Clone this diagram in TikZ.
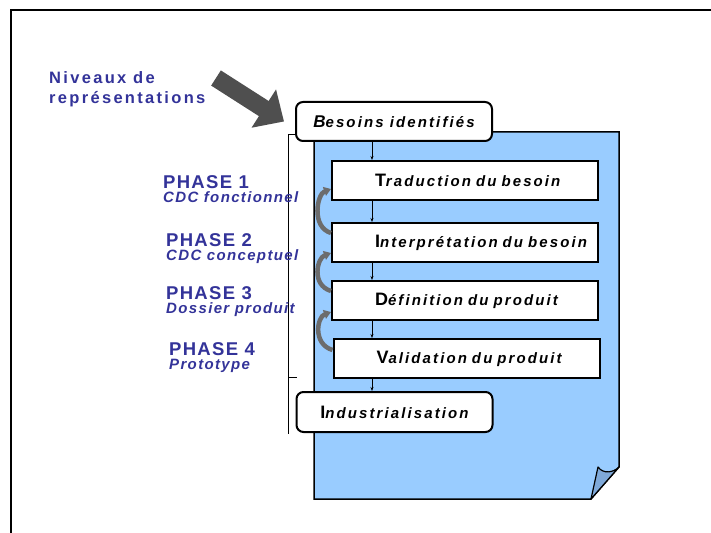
\documentclass[tikz,border=0pt]{standalone}
\usepackage{fontspec}
\setmainfont{Liberation Sans}
\newfontfamily\spacedfont[LetterSpace=14]{Liberation Sans}
\newfontfamily\subfont[LetterSpace=9]{Liberation Sans}
\newfontfamily\phasefont[LetterSpace=7]{Liberation Sans}
\usepackage{xcolor}
\usepackage{tikz}
\usetikzlibrary{arrows.meta,positioning,calc}

\definecolor{pageblue}{HTML}{99CCFF}
\definecolor{flapblue}{HTML}{7FA9D9}
\definecolor{labelblue}{HTML}{333399}
\definecolor{arrowgray}{HTML}{4F4F4F}
\definecolor{curvegray}{HTML}{6C6C6C}

\newcommand{\bigfirst}[1]{{\fontsize{18bp}{18bp}\selectfont\upshape #1}}

\begin{document}
\begin{tikzpicture}[x=1bp,y=-1bp,
  stagebox/.style={draw,line width=2bp,fill=white,minimum height=39bp,text width=266bp,inner xsep=0pt,inner ysep=0pt,align=left,
    execute at begin node=\hspace*{43bp},font=\spacedfont\bfseries\itshape\fontsize{15bp}{16bp}\selectfont},
  endbox/.style={draw,line width=2bp,fill=white,rounded corners=7bp,minimum width=196bp,minimum height=39bp,inner sep=0pt,align=center,
    font=\spacedfont\bfseries\itshape\fontsize{15bp}{16bp}\selectfont},
  phaselabel/.style={align=left,anchor=north west,inner sep=0pt,text=labelblue,font=\phasefont\bfseries\fontsize{18.5bp}{14.4bp}\selectfont},
  flow/.style={-{Stealth[length=4bp,width=3bp]},line width=0.8bp},
  loopback/.style={-{Triangle[length=7bp,width=9bp]},line width=4.5bp,curvegray},
  bigarrow/.style={-{Triangle[length=24bp,width=44bp]},line width=18bp,arrowgray}]
  \useasboundingbox (0,0) rectangle (711,533);
  % frame
  \draw[line width=2bp] (11,533) -- (11,10) -- (711,10);
  % document page with folded corner
  \filldraw[fill=pageblue,line width=1.5bp] (314,132) -- (619,132) -- (619,467) -- (591,499) -- (314,499) -- cycle;
  \filldraw[fill=flapblue,line width=1.2bp,line join=round] (591,499) -- (598,467) .. controls (603,474) and (613,473) .. (619,467) -- cycle;
  % levels
  \node[endbox] (besoins) at (394,121.5) {{\fontsize{17bp}{17bp}\selectfont B}esoins identifi\'es};
  \node[stagebox] (trad) at (465,180.5) {\bigfirst{T}raduction du besoin};
  \node[stagebox, below=21bp of trad] (interp) {\bigfirst{I}nterpr\'etation du besoin};
  \node[stagebox, below=17bp of interp] (def) {\bigfirst{D}\'efinition du produit};
  \node[stagebox, below=17bp of def, xshift=1.5bp] (valid) {\bigfirst{V}alidation du produit};
  \node[endbox, minimum height=40bp] (indus) at (394.5,412) {\bigfirst{I}ndustrialisation};
  % flow between levels
  \coordinate (spine) at (372,0);
  \foreach \a/\b in {besoins/trad,trad/interp,interp/def,def/valid,valid/indus}
    \draw[flow] (\a.south -| spine) -- (\b.north -| spine);
  % loops back to the previous level
  \draw[loopback] ($(interp.north west)+(0,11)$) .. controls +(-20,-6) and +(-14,5) .. ($(trad.south west)+(0,-12)$);
  \draw[loopback] ($(def.north west)+(0,11)$) .. controls +(-20,-6) and +(-14,5) .. ($(interp.south west)+(0,-10)$);
  \draw[loopback] ($(valid.north west)+(0,12)$) .. controls +(-20,-6) and +(-14,5) .. ($(def.south west)+(0,-9)$);
  % bracket
  \coordinate (brtop) at (288,135);
  \coordinate (brbot) at (288,434);
  \coordinate (brtick) at (288,377);
  \draw[line width=1bp] (besoins.west |- brtop) -- (brtop) -- (brbot);
  \draw[line width=1bp] (brtick) -- ++(9,0);
  % phases
  \node[phaselabel] (ph1) at (163,175) {PHASE 1\\{\fontsize{15bp}{15bp}\selectfont\subfont\itshape CDC fonctionnel}};
  \node[phaselabel] (ph2) at (166,233) {PHASE 2\\{\fontsize{15bp}{15bp}\selectfont\subfont\itshape CDC conceptuel}};
  \node[phaselabel] (ph3) at (166,286) {PHASE 3\\{\fontsize{15bp}{15bp}\selectfont\subfont\itshape Dossier produit}};
  \node[phaselabel] (ph4) at (169,342) {PHASE 4\\{\fontsize{15bp}{15bp}\selectfont\subfont\itshape Prototype}};
  % levels caption
  \node[anchor=north west,inner sep=0pt,align=left,text=labelblue,font=\spacedfont\bfseries\fontsize{16.5bp}{20bp}\selectfont] (niveaux) at (49,71) {Niveaux de\\repr\'esentations};
  \coordinate (pointer) at ($(besoins.west)+(-11,0)$);
  \draw[bigarrow] (216,78) -- (pointer);
\end{tikzpicture}
\end{document}
